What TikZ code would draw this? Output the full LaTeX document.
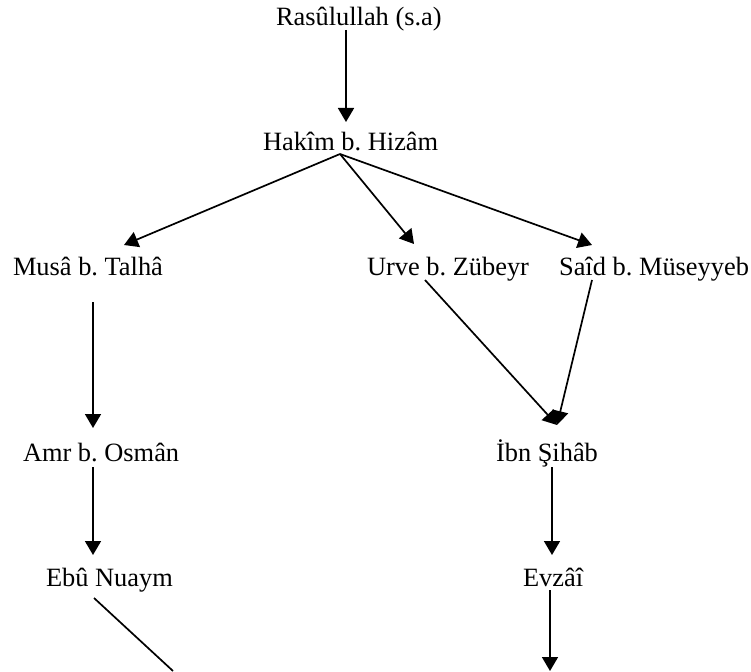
\documentclass[tikz,border=0pt]{standalone}
\usepackage{fontspec}
\setmainfont{Liberation Serif}
\usetikzlibrary{arrows.meta}
\begin{document}
\frenchspacing
\begin{tikzpicture}[x=1pt,y=-1pt,
  lbl/.style={inner sep=0pt,outer sep=0pt,font=\fontsize{26.4}{30}\selectfont},
  link/.style={line width=1.7pt},
  arr/.style={link,-{Triangle[width=16pt,length=14pt]}}]
\useasboundingbox[fill=white] (0,0) rectangle (751,671);
\node[lbl,anchor=base west] (ras) at (276,26) {Rasûlullah (s.a)};
\node[lbl,anchor=base west] (hak) at (263,151) {Hakîm b. Hizâm};
\node[lbl,anchor=base west] (musa) at (13,275) {Musâ b. Talhâ};
\node[lbl,anchor=base west] (urve) at (367,275) {Urve b. Zübeyr};
\node[lbl,anchor=base east] (said) at (749,275) {Saîd b. Müseyyeb};
\node[lbl,anchor=base west] (amr) at (23,461) {Amr b. Osmân};
\node[lbl,anchor=base west] (ibn) at (496,461) {İbn Şihâb};
\node[lbl,anchor=base west] (ebu) at (46,586) {Ebû Nuaym};
\node[lbl,anchor=base west] (evz) at (523,586) {Evzâî};
\coordinate (ebuend) at (173,671);
\coordinate (evzend) at (550,671);
\draw[arr] ([shift={(70,4)}]ras.base west) -- ([shift={(83,-29)}]hak.base west);
\draw[arr] ([shift={(77,3)}]hak.base west) -- ([shift={(111,-30)}]musa.base west);
\draw[arr] ([shift={(77,3)}]hak.base west) -- ([shift={(47,-31)}]urve.base west);
\draw[arr] ([shift={(77,3)}]hak.base west) -- ([shift={(-157,-30)}]said.base east);
\draw[arr] ([shift={(80,27)}]musa.base west) -- ([shift={(70,-33)}]amr.base west);
\draw[arr] ([shift={(70,6)}]amr.base west) -- ([shift={(47,-31)}]ebu.base west);
\draw[link] ([shift={(48,12)}]ebu.base west) -- (ebuend);
\draw[arr] ([shift={(58,5)}]urve.base west) -- ([shift={(61,-36)}]ibn.base west);
\draw[arr] ([shift={(-157,5)}]said.base east) -- ([shift={(61,-36)}]ibn.base west);
\draw[arr] ([shift={(56,6)}]ibn.base west) -- ([shift={(29,-31)}]evz.base west);
\draw[arr] ([shift={(27,4)}]evz.base west) -- (evzend);
\end{tikzpicture}
\end{document}
